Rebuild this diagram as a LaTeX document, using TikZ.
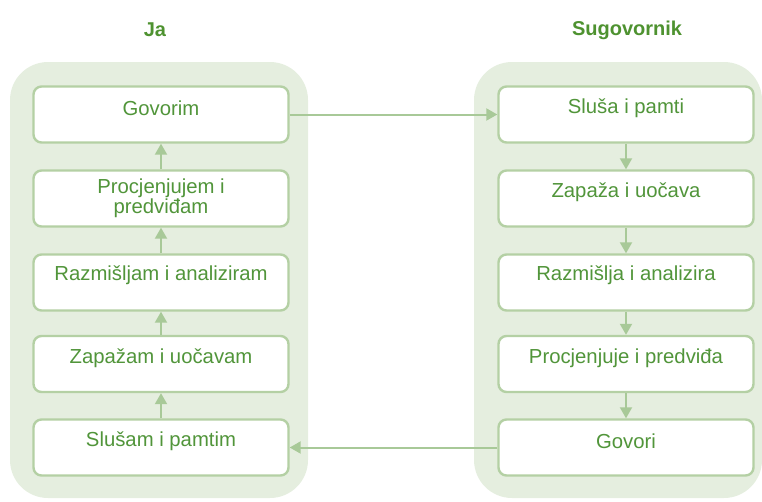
\documentclass[tikz,border=0pt]{standalone}
\usepackage{fontspec}
\setmainfont{Liberation Sans}
\usetikzlibrary{arrows.meta}
\definecolor{panelfill}{HTML}{E5EEDF}
\definecolor{boxline}{HTML}{B4D0A4}
\definecolor{txtgreen}{HTML}{51953A}
\definecolor{titlegreen}{HTML}{4E9230}
\definecolor{arrowgreen}{HTML}{A8C998}
\tikzset{
  panel/.style={fill=panelfill, draw=none, rounded corners=38pt},
  stepbox/.style={draw=boxline, line width=2.4pt, fill=white, rounded corners=8pt,
    minimum width=255pt, minimum height=56pt, inner sep=0pt},
  boxtext/.style={text=txtgreen, font=\fontsize{20.3}{22}\selectfont, align=center},
  title/.style={text=titlegreen, font=\fontsize{20}{22}\selectfont\bfseries},
  flow/.style={draw=arrowgreen, line width=2pt, -{Triangle[length=11pt,width=12pt]}}
}
\begin{document}
\begin{tikzpicture}[x=1pt,y=-1pt]
\useasboundingbox (0,0) rectangle (762,501);
\fill[panel] (10,62) rectangle (308,498);
\fill[panel] (474,62) rectangle (762,498);
\node[title] (tja) at (155,30) {Ja};
\node[title] (tsug) at (627,30) {Sugovornik};
% left boxes
\node[stepbox] (l1) at (161,114.5) {};
\node[stepbox] (l2) at (161,198.5) {};
\node[stepbox] (l3) at (161,282.5) {};
\node[stepbox] (l4) at (161,364) {};
\node[stepbox] (l5) at (161,447.5) {};
\node[boxtext] at (161,108) {Govorim};
\node[boxtext, font=\fontsize{20.3}{20.5}\selectfont] at (161,198) {Procjenjujem i\\predviđam};
\node[boxtext] at (161,275) {Razmišljam i analiziram};
\node[boxtext] at (161,358) {Zapažam i uočavam};
\node[boxtext] at (161,441) {Slušam i pamtim};
% right boxes
\node[stepbox] (r1) at (626,114.5) {};
\node[stepbox] (r2) at (626,198.5) {};
\node[stepbox] (r3) at (626,282.5) {};
\node[stepbox] (r4) at (626,364) {};
\node[stepbox] (r5) at (626,447.5) {};
\node[boxtext] at (626,108) {Sluša i pamti};
\node[boxtext] at (626,192) {Zapaža i uočava};
\node[boxtext] at (626,275) {Razmišlja i analizira};
\node[boxtext] at (626,358) {Procjenjuje i predviđa};
\node[boxtext] at (626,441) {Govori};
% arrows
\draw[flow] (l2.north) -- (l1.south);
\draw[flow] (l3.north) -- (l2.south);
\draw[flow] (l4.north) -- (l3.south);
\draw[flow] (l5.north) -- (l4.south);
\draw[flow] (r1.south) -- (r2.north);
\draw[flow] (r2.south) -- (r3.north);
\draw[flow] (r3.south) -- (r4.north);
\draw[flow] (r4.south) -- (r5.north);
\draw[flow] (l1.east) -- (r1.west);
\draw[flow] (r5.west) -- (l5.east);
\end{tikzpicture}
\end{document}
